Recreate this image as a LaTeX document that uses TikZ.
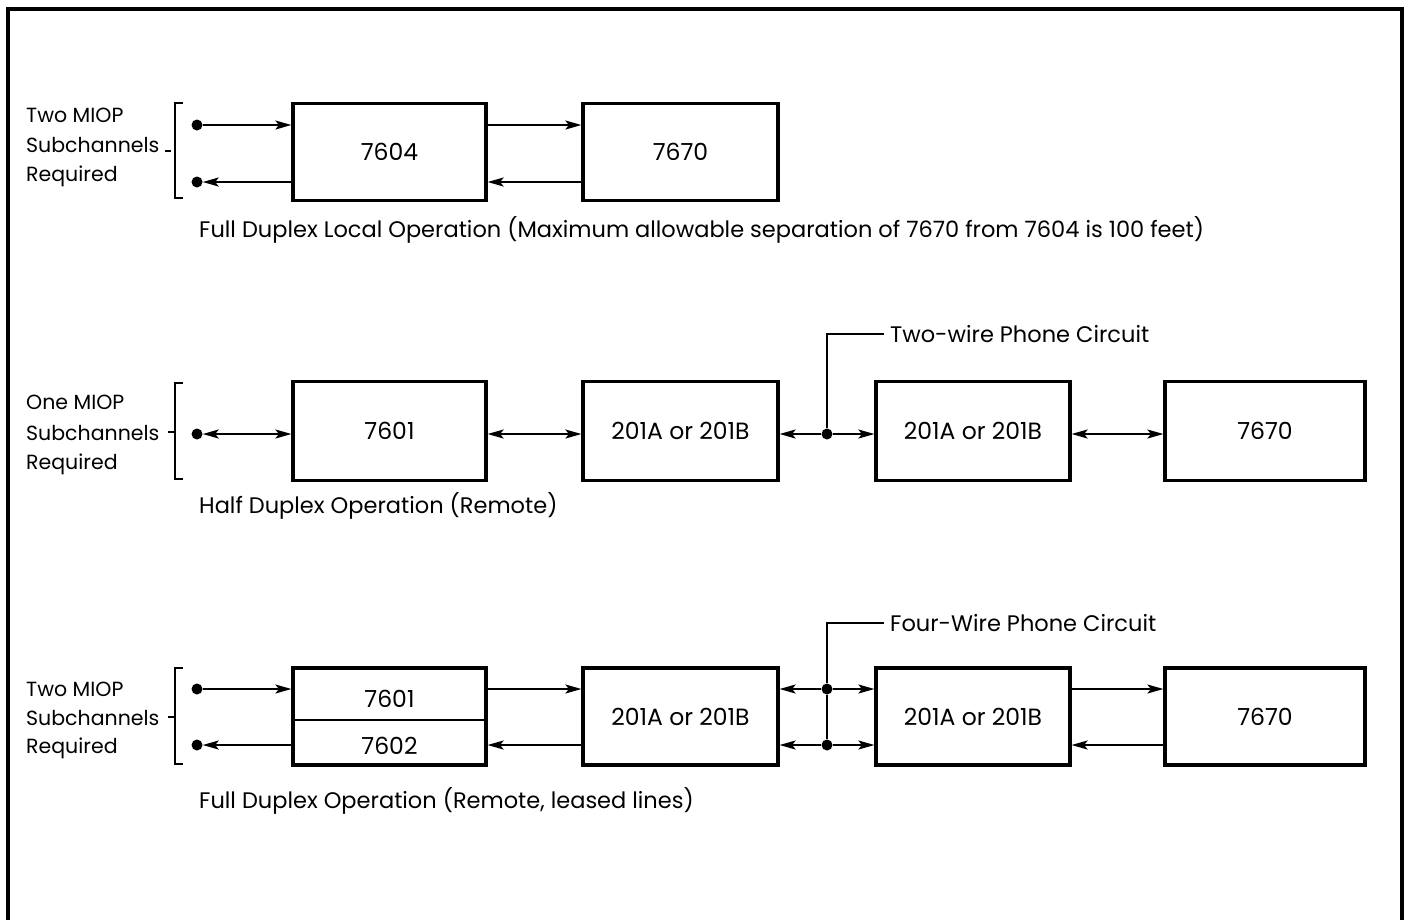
\documentclass[tikz,border=0pt]{standalone}
\usepackage{fontspec}
\setmainfont{Poppins}
\usetikzlibrary{arrows.meta}
\newcommand\dgfont{\fontsize{20.5}{25}\selectfont}
\newcommand\capfont{\fontsize{22.5}{27}\selectfont}
\newcommand\boxfont{\fontsize{23.5}{28}\selectfont}
\begin{document}
\begin{tikzpicture}[x=1pt,y=-1pt,
  box/.style={draw,line width=3.2pt,minimum width=#1,minimum height=97pt,inner sep=0pt,font=\boxfont},
  lbl/.style={anchor=base west,inner sep=0pt,font=\dgfont},
  captxt/.style={anchor=base west,inner sep=0pt,font=\capfont},
  dot/.style={circle,fill,inner sep=0pt,minimum size=11pt},
  conn/.style={line width=1.9pt},
  tip/.tip={Stealth[length=16pt,width=9pt,inset=3.5pt]},
  arr/.style={conn,-tip},
  darr/.style={conn,tip-tip},
  brk/.style={line width=2.4pt},
  frame/.style={line width=3.5pt}
]
\useasboundingbox (0,0) rectangle (1410,919);
\draw[frame] (8,930) -- (8,9) -- (1402,9) -- (1402,930);

% ---------- Row 1 ----------
\node[lbl] (l1a) at (26,122) {Two MIOP};
\node[lbl] (l1b) at (26,152) {Subchannels};
\node[lbl] (l1c) at (26,181) {Required};
\draw[brk] (183,103) -- (175,103) -- (175,198) -- (183,198);
\draw[brk] (165,151) -- (171,151);
\node[box=193pt] (a1) at (389.5,152) {7604};
\node[box=195pt] (b1) at (680.5,152) {7670};
\node[dot] (d1t) at (197,125) {};
\node[dot] (d1b) at (197,182) {};
\draw[arr] (d1t) -- (a1.west |- d1t);
\draw[arr] (a1.west |- d1b) -- (d1b);
\draw[arr] (a1.east |- d1t) -- (b1.west |- d1t);
\draw[arr] (b1.west |- d1b) -- (a1.east |- d1b);
\node[captxt] (c1) at (199,237) {Full Duplex Local Operation (Maximum allowable separation of 7670 from 7604 is 100 feet)};

% ---------- Row 2 ----------
\node[lbl] (l2a) at (26,409) {One MIOP};
\node[lbl] (l2b) at (26,440) {Subchannels};
\node[lbl] (l2c) at (26,469) {Required};
\draw[brk] (183,383) -- (175,383) -- (175,479) -- (183,479);
\draw[brk] (168,432) -- (175,432);
\node[box=193pt,minimum height=99pt] (a2) at (389.5,431) {7601};
\node[box=195pt,minimum height=99pt] (b2) at (680.5,431) {201A or 201B};
\node[box=194pt,minimum height=99pt] (c2) at (973,431) {201A or 201B};
\node[box=200pt,minimum height=99pt] (e2) at (1265,431) {7670};
\node[dot] (d2) at (197,434) {};
\node[dot] (m2) at (827,434) {};
\draw[darr] (d2) -- (a2.west |- d2);
\draw[darr] (a2.east |- d2) -- (b2.west |- d2);
\draw[arr] (m2) -- (b2.east |- m2);
\draw[arr] (m2) -- (c2.west |- m2);
\draw[darr] (c2.east |- m2) -- (e2.west |- m2);
\node[anchor=west,inner sep=0pt,font=\capfont] (ph2) at (890,334) {Two-wire Phone Circuit};
\coordinate (k2) at (884,334);
\draw[conn] (m2) |- (k2);
\node[captxt] (c2t) at (199,513) {Half Duplex Operation (Remote)};

% ---------- Row 3 ----------
\node[lbl] (l3a) at (26,696) {Two MIOP};
\node[lbl] (l3b) at (26,725) {Subchannels};
\node[lbl] (l3c) at (26,753) {Required};
\draw[brk] (183,668) -- (175,668) -- (175,764) -- (183,764);
\draw[brk] (168,717) -- (175,717);
\node[box=193pt] (a3) at (389.5,716.5) {};
\draw[line width=1.4pt] (a3.west |- 0,720) -- (a3.east |- 0,720);
\node[font=\boxfont,inner sep=0pt] (a3u) at (389.5,699) {7601};
\node[font=\boxfont,inner sep=0pt] (a3l) at (389.5,746) {7602};
\node[box=195pt] (b3) at (680.5,716.5) {201A or 201B};
\node[box=194pt] (c3) at (973,716.5) {201A or 201B};
\node[box=200pt] (e3) at (1265,716.5) {7670};
\node[dot] (d3t) at (197,689) {};
\node[dot] (d3b) at (197,745) {};
\node[dot] (m3t) at (827,689) {};
\node[dot] (m3b) at (827,745) {};
\draw[arr] (d3t) -- (a3.west |- d3t);
\draw[arr] (a3.west |- d3b) -- (d3b);
\draw[arr] (a3.east |- d3t) -- (b3.west |- d3t);
\draw[arr] (b3.west |- d3b) -- (a3.east |- d3b);
\draw[arr] (m3t) -- (b3.east |- m3t);
\draw[arr] (m3t) -- (c3.west |- m3t);
\draw[arr] (m3b) -- (b3.east |- m3b);
\draw[arr] (m3b) -- (c3.west |- m3b);
\draw[arr] (c3.east |- d3t) -- (e3.west |- d3t);
\draw[arr] (e3.west |- d3b) -- (c3.east |- d3b);
\node[anchor=west,inner sep=0pt,font=\capfont] (ph3) at (890,623) {Four-Wire Phone Circuit};
\coordinate (k3) at (884,623);
\draw[conn] (m3b) -- (m3t) |- (k3);
\node[captxt] (c3t) at (199,808) {Full Duplex Operation (Remote, leased lines)};
\end{tikzpicture}
\end{document}
